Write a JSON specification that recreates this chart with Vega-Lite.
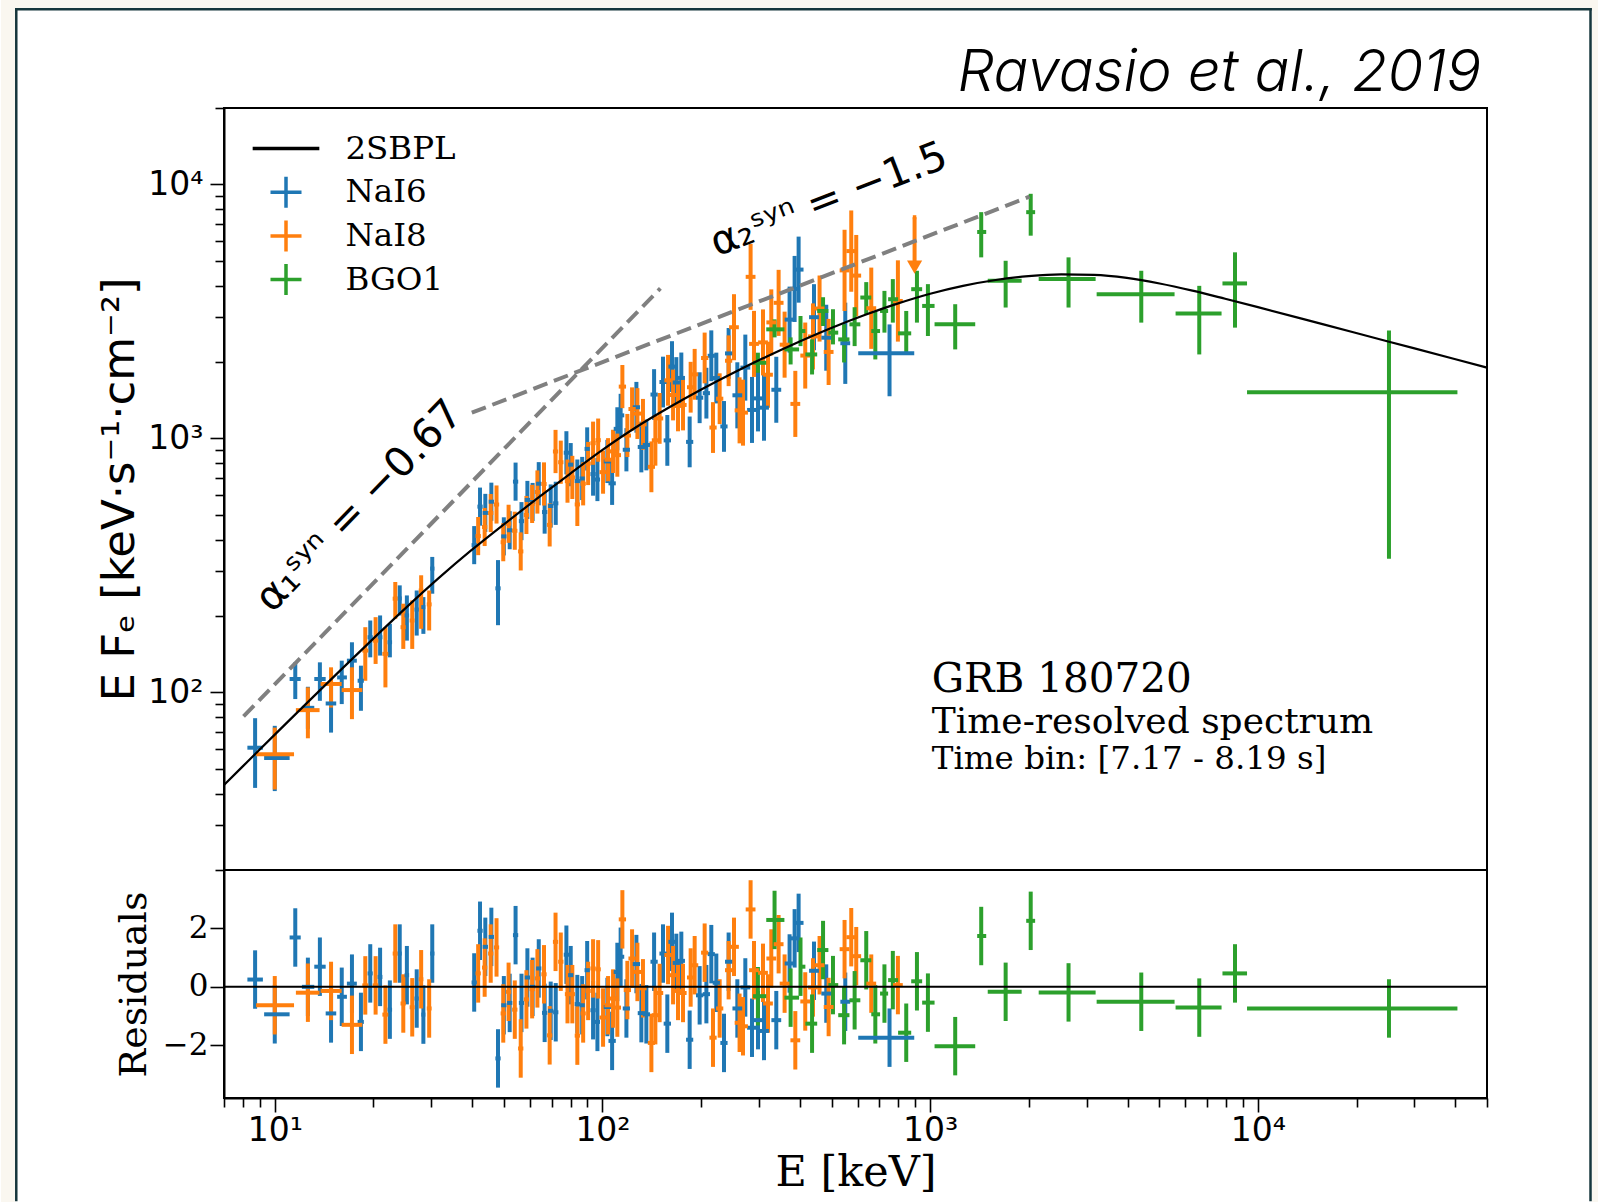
{
"$schema": "https://vega.github.io/schema/vega-lite/v6.json",
"background": "white",
"padding": 0,
"autosize": {"type": "pad", "resize": false},
"spacing": 0,
"bounds": "flush",
"config": {
  "view": {"stroke": null},
  "axis": {"grid": false, "domainColor": "black", "tickColor": "black", "labelColor": "black", "titleColor": "black", "domainWidth": 2, "tickWidth": 1.6, "labelOverlap": false, "labelFlush": false, "zindex": 2}
},
"datasets": {
  "pts": [
    {"d":"NaI6","e":8.71,"el":8.25,"eh":9.2,"f":60.6,"fl":42.1,"fh":79.2,"r":0.25,"rl":-0.75,"rh":1.25},
    {"d":"NaI6","e":10.0,"el":9.28,"eh":11.1,"f":55.2,"fl":40.9,"fh":73.9,"r":-0.94,"rl":-1.94,"rh":0.06},
    {"d":"NaI6","e":11.55,"el":11.1,"eh":12.0,"f":113,"fl":94.2,"fh":131.4,"r":1.69,"rl":0.69,"rh":2.69},
    {"d":"NaI6","e":12.62,"el":12.1,"eh":13.2,"f":87.0,"fl":71.9,"fh":105.3,"r":0.0,"rl":-1.0,"rh":1.0},
    {"d":"NaI6","e":13.73,"el":13.2,"eh":14.3,"f":113,"fl":92.7,"fh":131.4,"r":0.69,"rl":-0.31,"rh":1.69},
    {"d":"NaI6","e":14.85,"el":14.3,"eh":15.4,"f":90.5,"fl":69.5,"fh":108,"r":-0.91,"rl":-1.91,"rh":0.09},
    {"d":"NaI6","e":16.01,"el":15.5,"eh":16.6,"f":114.6,"fl":90.0,"fh":133.4,"r":-0.34,"rl":-1.34,"rh":0.66},
    {"d":"NaI6","e":17.2,"el":16.6,"eh":17.8,"f":133.4,"fl":111.2,"fh":157.6,"r":0.11,"rl":-0.89,"rh":1.11},
    {"d":"NaI6","e":18.32,"el":17.9,"eh":18.7,"f":111.2,"fl":84.7,"fh":127.5,"r":-1.2,"rl":-2.2,"rh":-0.2},
    {"d":"NaI6","e":19.56,"el":19.2,"eh":19.9,"f":165,"fl":137.5,"fh":192,"r":0.46,"rl":-0.54,"rh":1.46},
    {"d":"NaI6","e":20.96,"el":20.6,"eh":21.3,"f":165,"fl":139.7,"fh":201,"r":0.34,"rl":-0.66,"rh":1.34},
    {"d":"NaI6","e":22.45,"el":22.1,"eh":22.8,"f":157.6,"fl":137.5,"fh":186.4,"r":-0.78,"rl":-1.78,"rh":0.22},
    {"d":"NaI6","e":24.06,"el":23.7,"eh":24.4,"f":234.6,"fl":201,"fh":264,"r":1.14,"rl":0.14,"rh":2.14},
    {"d":"NaI6","e":25.3,"el":24.9,"eh":25.7,"f":201,"fl":160,"fh":241,"r":0.4,"rl":-0.6,"rh":1.4},
    {"d":"NaI6","e":27.11,"el":26.7,"eh":27.5,"f":212,"fl":167.5,"fh":252,"r":-0.4,"rl":-1.4,"rh":0.6},
    {"d":"NaI6","e":28.41,"el":28.0,"eh":28.8,"f":216.8,"fl":170.1,"fh":237.4,"r":-0.95,"rl":-1.95,"rh":0.05},
    {"d":"NaI6","e":30.24,"el":29.8,"eh":30.7,"f":307.4,"fl":244.8,"fh":341.7,"r":1.14,"rl":0.14,"rh":2.14},
    {"d":"NaI6","e":40.6,"el":39.86,"eh":41.36,"f":380.2,"fl":319.9,"fh":451.9,"r":0.15,"rl":-0.85,"rh":1.15},
    {"d":"NaI6","e":42.3,"el":41.53,"eh":43.09,"f":539,"fl":453.5,"fh":640.6,"r":1.92,"rl":0.92,"rh":2.92},
    {"d":"NaI6","e":43.9,"el":43.1,"eh":44.72,"f":509.3,"fl":428.5,"fh":605.3,"r":1.37,"rl":0.37,"rh":2.37},
    {"d":"NaI6","e":45.8,"el":44.96,"eh":46.65,"f":563.6,"fl":474.2,"fh":669.9,"r":1.71,"rl":0.71,"rh":2.71},
    {"d":"NaI6","e":48.0,"el":47.12,"eh":48.89,"f":257,"fl":184,"fh":332,"r":-2.45,"rl":-3.45,"rh":-1.45},
    {"d":"NaI6","e":50.0,"el":49.09,"eh":50.93,"f":411.6,"fl":346.3,"fh":489.3,"r":-0.63,"rl":-1.63,"rh":0.37},
    {"d":"NaI6","e":52.1,"el":51.15,"eh":53.07,"f":435.3,"fl":366.3,"fh":517.4,"r":-0.55,"rl":-1.55,"rh":0.45},
    {"d":"NaI6","e":54.3,"el":53.31,"eh":55.31,"f":676.1,"fl":568.9,"fh":803.5,"r":1.77,"rl":0.77,"rh":2.77},
    {"d":"NaI6","e":56.6,"el":55.57,"eh":57.65,"f":472.6,"fl":397.7,"fh":561.7,"r":-0.55,"rl":-1.55,"rh":0.45},
    {"d":"NaI6","e":59.0,"el":57.92,"eh":60.1,"f":572.8,"fl":482.0,"fh":680.8,"r":0.32,"rl":-0.68,"rh":1.32},
    {"d":"NaI6","e":61.2,"el":60.08,"eh":62.34,"f":562.3,"fl":473.2,"fh":668.3,"r":0.0,"rl":-1.0,"rh":1.0},
    {"d":"NaI6","e":63.9,"el":62.73,"eh":65.09,"f":663.5,"fl":545.6,"fh":806.9,"r":0.63,"rl":-0.37,"rh":1.63},
    {"d":"NaI6","e":66.6,"el":65.38,"eh":67.84,"f":513.2,"fl":421.9,"fh":624.3,"r":-0.89,"rl":-1.89,"rh":0.11},
    {"d":"NaI6","e":69.5,"el":68.23,"eh":70.79,"f":542.0,"fl":445.7,"fh":659.2,"r":-0.82,"rl":-1.82,"rh":0.18},
    {"d":"NaI6","e":72.0,"el":70.69,"eh":73.34,"f":555.5,"fl":456.8,"fh":675.6,"r":-0.87,"rl":-1.87,"rh":0.13},
    {"d":"NaI6","e":77.6,"el":76.18,"eh":79.04,"f":878.5,"fl":722.2,"fh":1068,"r":1.1,"rl":0.1,"rh":2.1},
    {"d":"NaI6","e":80.0,"el":78.54,"eh":81.49,"f":788.7,"fl":648.5,"fh":959.2,"r":0.4,"rl":-0.6,"rh":1.4},
    {"d":"NaI6","e":83.8,"el":82.27,"eh":85.36,"f":679.5,"fl":558.8,"fh":826.4,"r":-0.59,"rl":-1.59,"rh":0.41},
    {"d":"NaI6","e":86.7,"el":85.12,"eh":88.31,"f":695.7,"fl":572.1,"fh":846.1,"r":-0.63,"rl":-1.63,"rh":0.37},
    {"d":"NaI6","e":89.8,"el":88.16,"eh":91.47,"f":909.7,"fl":747.8,"fh":1106,"r":0.57,"rl":-0.43,"rh":1.57},
    {"d":"NaI6","e":93.6,"el":91.89,"eh":95.34,"f":724.0,"fl":595.3,"fh":880.5,"r":-0.8,"rl":-1.8,"rh":0.2},
    {"d":"NaI6","e":96.5,"el":94.74,"eh":98.29,"f":689.1,"fl":566.7,"fh":838.2,"r":-1.2,"rl":-2.2,"rh":-0.2},
    {"d":"NaI6","e":103.5,"el":100.9,"eh":106.2,"f":812.1,"fl":667.6,"fh":987.4,"r":-0.69,"rl":-1.69,"rh":0.31},
    {"d":"NaI6","e":107.0,"el":104.3,"eh":109.8,"f":665.8,"fl":547.5,"fh":809.8,"r":-1.85,"rl":-2.85,"rh":-0.85},
    {"d":"NaI6","e":111.0,"el":108.2,"eh":113.9,"f":1091,"fl":897.5,"fh":1327,"r":0.51,"rl":-0.49,"rh":1.51},
    {"d":"NaI6","e":113.6,"el":110.8,"eh":116.5,"f":1233,"fl":1014,"fh":1499,"r":1.03,"rl":0.03,"rh":2.03},
    {"d":"NaI6","e":118.3,"el":115.3,"eh":121.3,"f":902.7,"fl":742.1,"fh":1098,"r":-0.74,"rl":-1.74,"rh":0.26},
    {"d":"NaI6","e":126.9,"el":123.7,"eh":130.2,"f":1327,"fl":1054,"fh":1670,"r":0.78,"rl":-0.22,"rh":1.78},
    {"d":"NaI6","e":131.4,"el":128.1,"eh":134.8,"f":925.8,"fl":735.4,"fh":1165,"r":-0.9,"rl":-1.9,"rh":0.1},
    {"d":"NaI6","e":136.1,"el":132.7,"eh":139.6,"f":942.8,"fl":748.9,"fh":1187,"r":-0.94,"rl":-1.94,"rh":0.06},
    {"d":"NaI6","e":143.7,"el":140.1,"eh":147.4,"f":1489,"fl":1183,"fh":1874,"r":0.86,"rl":-0.14,"rh":1.86},
    {"d":"NaI6","e":153.0,"el":149.2,"eh":156.9,"f":1668,"fl":1325,"fh":2099,"r":1.14,"rl":0.14,"rh":2.14},
    {"d":"NaI6","e":157.7,"el":153.7,"eh":161.8,"f":982.7,"fl":780.6,"fh":1237,"r":-1.26,"rl":-2.26,"rh":-0.26},
    {"d":"NaI6","e":163.0,"el":158.9,"eh":167.2,"f":1918,"fl":1524,"fh":2415,"r":1.54,"rl":0.54,"rh":2.54},
    {"d":"NaI6","e":168.0,"el":163.8,"eh":172.3,"f":1661,"fl":1319,"fh":2090,"r":0.82,"rl":-0.18,"rh":1.82},
    {"d":"NaI6","e":174.0,"el":169.6,"eh":178.5,"f":1731,"fl":1375,"fh":2179,"r":0.89,"rl":-0.11,"rh":1.89},
    {"d":"NaI6","e":184.5,"el":179.9,"eh":189.2,"f":969.4,"fl":770.1,"fh":1220,"r":-1.81,"rl":-2.81,"rh":-0.81},
    {"d":"NaI6","e":197.9,"el":192.9,"eh":203.0,"f":1447,"fl":1149,"fh":1822,"r":-0.29,"rl":-1.29,"rh":0.71},
    {"d":"NaI6","e":207.5,"el":202.3,"eh":212.8,"f":1508,"fl":1198,"fh":1898,"r":-0.25,"rl":-1.25,"rh":0.75},
    {"d":"NaI6","e":214.8,"el":209.4,"eh":220.3,"f":2116,"fl":1681,"fh":2664,"r":1.12,"rl":0.12,"rh":2.12},
    {"d":"NaI6","e":222.5,"el":216.9,"eh":228.2,"f":1729,"fl":1374,"fh":2177,"r":0.14,"rl":-0.86,"rh":1.14},
    {"d":"NaI6","e":234.8,"el":228.9,"eh":240.8,"f":1115,"fl":886.0,"fh":1404,"r":-1.92,"rl":-2.92,"rh":-0.92},
    {"d":"NaI6","e":242.6,"el":236.5,"eh":248.8,"f":2162,"fl":1717,"fh":2722,"r":0.86,"rl":-0.14,"rh":1.86},
    {"d":"NaI6","e":257.9,"el":249.2,"eh":266.9,"f":1479,"fl":1096,"fh":1995,"r":-0.74,"rl":-1.74,"rh":0.26},
    {"d":"NaI6","e":272.8,"el":263.6,"eh":282.4,"f":1901,"fl":1409,"fh":2564,"r":-0.02,"rl":-1.02,"rh":0.98},
    {"d":"NaI6","e":285.9,"el":276.2,"eh":295.9,"f":1295,"fl":960.3,"fh":1747,"r":-1.4,"rl":-2.4,"rh":-0.4},
    {"d":"NaI6","e":298.2,"el":288.1,"eh":308.7,"f":1438,"fl":1066,"fh":1940,"r":-1.14,"rl":-2.14,"rh":-0.14},
    {"d":"NaI6","e":311.1,"el":300.6,"eh":322.0,"f":1322,"fl":979.9,"fh":1783,"r":-1.51,"rl":-2.51,"rh":-0.51},
    {"d":"NaI6","e":339.1,"el":327.6,"eh":351.0,"f":1555,"fl":1153,"fh":2097,"r":-1.14,"rl":-2.14,"rh":-0.14},
    {"d":"NaI6","e":372.3,"el":359.7,"eh":385.4,"f":2937,"fl":2177,"fh":3961,"r":0.8,"rl":-0.2,"rh":1.8},
    {"d":"NaI6","e":385.7,"el":372.6,"eh":399.2,"f":3879,"fl":2875,"fh":5232,"r":1.66,"rl":0.66,"rh":2.66},
    {"d":"NaI6","e":396.7,"el":383.3,"eh":410.6,"f":4622,"fl":3425,"fh":6233,"r":2.19,"rl":1.19,"rh":3.19},
    {"d":"NaI6","e":441.9,"el":426.9,"eh":457.4,"f":3002,"fl":2225,"fh":4050,"r":0.55,"rl":-0.45,"rh":1.55},
    {"d":"NaI6","e":481.7,"el":465.4,"eh":498.6,"f":2493,"fl":1848,"fh":3361,"r":-0.23,"rl":-1.23,"rh":0.77},
    {"d":"NaI6","e":550.6,"el":531.9,"eh":569.9,"f":2371,"fl":1640,"fh":3425,"r":-0.51,"rl":-1.51,"rh":0.49},
    {"d":"NaI6","e":751.4,"el":603.1,"eh":893.9,"f":2163,"fl":1466,"fh":2812,"r":-1.74,"rl":-2.74,"rh":-0.74},
    {"d":"NaI8","e":10.0,"el":8.77,"eh":11.45,"f":57.1,"fl":41.5,"fh":72.7,"r":-0.63,"rl":-1.63,"rh":0.37},
    {"d":"NaI8","e":12.62,"el":11.6,"eh":13.7,"f":85.2,"fl":66.0,"fh":104.7,"r":-0.2,"rl":-1.2,"rh":0.8},
    {"d":"NaI8","e":14.85,"el":13.8,"eh":16.0,"f":108,"fl":87.2,"fh":125.6,"r":-0.14,"rl":-1.14,"rh":0.86},
    {"d":"NaI8","e":17.2,"el":16.0,"eh":18.5,"f":102.2,"fl":78.5,"fh":125.6,"r":-1.3,"rl":-2.3,"rh":-0.3},
    {"d":"NaI8","e":18.89,"el":18.5,"eh":19.3,"f":146.2,"fl":111.2,"fh":180.7,"r":0.05,"rl":-0.95,"rh":1.05},
    {"d":"NaI8","e":20.31,"el":19.9,"eh":20.7,"f":160,"fl":129.5,"fh":197.9,"r":0.05,"rl":-0.95,"rh":1.05},
    {"d":"NaI8","e":21.76,"el":21.3,"eh":22.2,"f":141.9,"fl":104.7,"fh":180.7,"r":-0.95,"rl":-1.95,"rh":0.05},
    {"d":"NaI8","e":23.32,"el":22.9,"eh":23.7,"f":234,"fl":195,"fh":272.2,"r":1.14,"rl":0.14,"rh":2.14},
    {"d":"NaI8","e":24.67,"el":24.2,"eh":25.1,"f":180.7,"fl":148.4,"fh":223.6,"r":-0.57,"rl":-1.57,"rh":0.43},
    {"d":"NaI8","e":26.27,"el":25.8,"eh":26.7,"f":192,"fl":148.4,"fh":230.4,"r":-0.7,"rl":-1.7,"rh":0.3},
    {"d":"NaI8","e":27.97,"el":27.5,"eh":28.4,"f":252,"fl":178.1,"fh":289.3,"r":0.26,"rl":-0.74,"rh":1.26},
    {"d":"NaI8","e":29.59,"el":29.1,"eh":30.1,"f":222.2,"fl":175.4,"fh":252,"r":-0.74,"rl":-1.74,"rh":0.26},
    {"d":"NaI8","e":41.75,"el":40.99,"eh":42.53,"f":412.8,"fl":347.2,"fh":490.7,"r":0.46,"rl":-0.54,"rh":1.46},
    {"d":"NaI8","e":43.7,"el":42.9,"eh":44.51,"f":448.1,"fl":377.1,"fh":532.6,"r":0.66,"rl":-0.34,"rh":1.66},
    {"d":"NaI8","e":45.6,"el":44.77,"eh":46.45,"f":508.5,"fl":427.9,"fh":604.4,"r":1.14,"rl":0.14,"rh":2.14},
    {"d":"NaI8","e":47.5,"el":46.63,"eh":48.38,"f":549.5,"fl":462.4,"fh":653.1,"r":1.35,"rl":0.35,"rh":2.35},
    {"d":"NaI8","e":49.8,"el":48.89,"eh":50.73,"f":390.4,"fl":328.5,"fh":464.0,"r":-0.91,"rl":-1.91,"rh":0.09},
    {"d":"NaI8","e":51.7,"el":50.76,"eh":52.66,"f":461.5,"fl":388.2,"fh":548.4,"r":-0.17,"rl":-1.17,"rh":0.83},
    {"d":"NaI8","e":54.0,"el":53.01,"eh":55.0,"f":433.1,"fl":364.5,"fh":514.9,"r":-0.78,"rl":-1.78,"rh":0.22},
    {"d":"NaI8","e":56.3,"el":55.27,"eh":57.35,"f":359.2,"fl":302.2,"fh":426.9,"r":-2.11,"rl":-3.11,"rh":-1.11},
    {"d":"NaI8","e":58.6,"el":57.53,"eh":59.69,"f":499.7,"fl":420.5,"fh":593.9,"r":-0.43,"rl":-1.43,"rh":0.57},
    {"d":"NaI8","e":61.0,"el":59.89,"eh":62.13,"f":552.4,"fl":464.8,"fh":656.7,"r":-0.08,"rl":-1.08,"rh":0.92},
    {"d":"NaI8","e":63.3,"el":62.14,"eh":64.48,"f":615.4,"fl":506.0,"fh":748.5,"r":0.29,"rl":-0.71,"rh":1.29},
    {"d":"NaI8","e":66.3,"el":65.09,"eh":67.53,"f":662.0,"fl":544.3,"fh":805.1,"r":0.43,"rl":-0.57,"rh":1.43},
    {"d":"NaI8","e":69.0,"el":67.74,"eh":70.28,"f":456.8,"fl":375.6,"fh":555.5,"r":-1.66,"rl":-2.66,"rh":-0.66},
    {"d":"NaI8","e":71.9,"el":70.59,"eh":73.24,"f":888.6,"fl":730.4,"fh":1081,"r":1.54,"rl":0.54,"rh":2.54},
    {"d":"NaI8","e":74.6,"el":73.24,"eh":75.99,"f":806.1,"fl":662.9,"fh":980.4,"r":0.86,"rl":-0.14,"rh":1.86},
    {"d":"NaI8","e":78.2,"el":76.77,"eh":79.65,"f":679.2,"fl":558.5,"fh":826.0,"r":-0.25,"rl":-1.25,"rh":0.75},
    {"d":"NaI8","e":80.9,"el":79.42,"eh":82.4,"f":702.4,"fl":577.7,"fh":854.3,"r":-0.25,"rl":-1.25,"rh":0.75},
    {"d":"NaI8","e":83.8,"el":82.27,"eh":85.36,"f":550.0,"fl":452.3,"fh":669.0,"r":-1.67,"rl":-2.67,"rh":-0.67},
    {"d":"NaI8","e":87.3,"el":85.71,"eh":88.92,"f":663.1,"fl":545.1,"fh":806.4,"r":-0.91,"rl":-1.91,"rh":0.09},
    {"d":"NaI8","e":90.4,"el":88.75,"eh":92.08,"f":796.9,"fl":655.3,"fh":969.2,"r":-0.14,"rl":-1.14,"rh":0.86},
    {"d":"NaI8","e":93.6,"el":91.89,"eh":95.34,"f":957.9,"fl":787.7,"fh":1165,"r":0.63,"rl":-0.37,"rh":1.63},
    {"d":"NaI8","e":97.0,"el":95.23,"eh":98.8,"f":984.7,"fl":809.8,"fh":1198,"r":0.6,"rl":-0.4,"rh":1.6},
    {"d":"NaI8","e":100.4,"el":97.89,"eh":103.0,"f":736.9,"fl":606.0,"fh":896.4,"r":-1.05,"rl":-2.05,"rh":-0.05},
    {"d":"NaI8","e":104.0,"el":101.4,"eh":106.7,"f":824.8,"fl":678.2,"fh":1003,"r":-0.63,"rl":-1.63,"rh":0.37},
    {"d":"NaI8","e":107.7,"el":105.0,"eh":110.5,"f":889.6,"fl":731.3,"fh":1082,"r":-0.4,"rl":-1.4,"rh":0.6},
    {"d":"NaI8","e":111.0,"el":108.2,"eh":113.9,"f":859.8,"fl":707.0,"fh":1045,"r":-0.71,"rl":-1.71,"rh":0.29},
    {"d":"NaI8","e":115.0,"el":112.1,"eh":118.0,"f":1600,"fl":1316,"fh":1946,"r":2.31,"rl":1.31,"rh":3.31},
    {"d":"NaI8","e":119.1,"el":116.1,"eh":122.2,"f":1027,"fl":845.0,"fh":1249,"r":-0.11,"rl":-1.11,"rh":0.89},
    {"d":"NaI8","e":123.1,"el":120.0,"eh":126.3,"f":1306,"fl":1074,"fh":1589,"r":0.97,"rl":-0.03,"rh":1.97},
    {"d":"NaI8","e":127.8,"el":124.6,"eh":131.1,"f":1253,"fl":995.4,"fh":1578,"r":0.51,"rl":-0.49,"rh":1.51},
    {"d":"NaI8","e":132.9,"el":129.6,"eh":136.3,"f":1136,"fl":902.9,"fh":1431,"r":-0.05,"rl":-1.05,"rh":0.95},
    {"d":"NaI8","e":141.0,"el":137.5,"eh":144.6,"f":773.2,"fl":614.2,"fh":973.4,"r":-1.92,"rl":-2.92,"rh":-0.92},
    {"d":"NaI8","e":145.0,"el":141.4,"eh":148.7,"f":983.5,"fl":781.3,"fh":1238,"r":-0.97,"rl":-1.97,"rh":0.03},
    {"d":"NaI8","e":149.4,"el":145.7,"eh":153.2,"f":1199,"fl":952.8,"fh":1510,"r":-0.21,"rl":-1.21,"rh":0.79},
    {"d":"NaI8","e":158.5,"el":154.5,"eh":162.6,"f":1694,"fl":1346,"fh":2133,"r":1.09,"rl":0.09,"rh":2.09},
    {"d":"NaI8","e":164.2,"el":160.1,"eh":168.4,"f":1483,"fl":1178,"fh":1866,"r":0.4,"rl":-0.6,"rh":1.4},
    {"d":"NaI8","e":170.0,"el":165.7,"eh":174.4,"f":1343,"fl":1067,"fh":1690,"r":-0.14,"rl":-1.14,"rh":0.86},
    {"d":"NaI8","e":176.1,"el":171.7,"eh":180.6,"f":1355,"fl":1076,"fh":1706,"r":-0.21,"rl":-1.21,"rh":0.79},
    {"d":"NaI8","e":185.8,"el":181.1,"eh":190.6,"f":1591,"fl":1264,"fh":2003,"r":0.32,"rl":-0.68,"rh":1.32},
    {"d":"NaI8","e":191.1,"el":186.3,"eh":196.0,"f":1788,"fl":1421,"fh":2252,"r":0.74,"rl":-0.26,"rh":1.74},
    {"d":"NaI8","e":205.0,"el":199.9,"eh":210.3,"f":2074,"fl":1648,"fh":2611,"r":1.17,"rl":0.17,"rh":2.17},
    {"d":"NaI8","e":217.4,"el":212.0,"eh":223.0,"f":1104,"fl":877.0,"fh":1390,"r":-1.74,"rl":-2.74,"rh":-0.74},
    {"d":"NaI8","e":227.8,"el":222.1,"eh":233.7,"f":1434,"fl":1139,"fh":1805,"r":-0.74,"rl":-1.74,"rh":0.26},
    {"d":"NaI8","e":242.6,"el":236.5,"eh":248.8,"f":2023,"fl":1607,"fh":2546,"r":0.57,"rl":-0.43,"rh":1.57},
    {"d":"NaI8","e":251.9,"el":243.4,"eh":260.7,"f":2741,"fl":2032,"fh":3698,"r":1.37,"rl":0.37,"rh":2.37},
    {"d":"NaI8","e":262.0,"el":253.1,"eh":271.2,"f":1290,"fl":956.6,"fh":1741,"r":-1.23,"rl":-2.23,"rh":-0.23},
    {"d":"NaI8","e":268.4,"el":259.3,"eh":277.8,"f":1264,"fl":936.8,"fh":1704,"r":-1.35,"rl":-2.35,"rh":-0.35},
    {"d":"NaI8","e":283.1,"el":273.5,"eh":293.0,"f":4328,"fl":3209,"fh":5839,"r":2.65,"rl":1.65,"rh":3.65},
    {"d":"NaI8","e":289.9,"el":280.1,"eh":300.1,"f":2357,"fl":1747,"fh":3179,"r":0.57,"rl":-0.43,"rh":1.57},
    {"d":"NaI8","e":308.9,"el":298.4,"eh":319.7,"f":2389,"fl":1771,"fh":3222,"r":0.48,"rl":-0.52,"rh":1.48},
    {"d":"NaI8","e":319.9,"el":309.1,"eh":331.1,"f":1782,"fl":1321,"fh":2404,"r":-0.57,"rl":-1.57,"rh":0.43},
    {"d":"NaI8","e":327.4,"el":316.3,"eh":338.9,"f":2864,"fl":2123,"fh":3864,"r":0.97,"rl":-0.03,"rh":1.97},
    {"d":"NaI8","e":344.7,"el":333.0,"eh":356.8,"f":3420,"fl":2534,"fh":4612,"r":1.46,"rl":0.46,"rh":2.46},
    {"d":"NaI8","e":359.5,"el":347.3,"eh":372.1,"f":2340,"fl":1735,"fh":3157,"r":0.11,"rl":-0.89,"rh":1.11},
    {"d":"NaI8","e":387.6,"el":374.5,"eh":401.2,"f":1368,"fl":1014,"fh":1846,"r":-1.83,"rl":-2.83,"rh":-0.83},
    {"d":"NaI8","e":415.6,"el":401.5,"eh":430.2,"f":2120,"fl":1572,"fh":2860,"r":-0.5,"rl":-1.5,"rh":0.5},
    {"d":"NaI8","e":438.8,"el":423.9,"eh":454.2,"f":2522,"fl":1869,"fh":3402,"r":-0.02,"rl":-1.02,"rh":0.98},
    {"d":"NaI8","e":459.6,"el":444.0,"eh":475.7,"f":3248,"fl":2407,"fh":4381,"r":0.74,"rl":-0.26,"rh":1.74},
    {"d":"NaI8","e":489.8,"el":473.2,"eh":507.0,"f":2191,"fl":1624,"fh":2956,"r":-0.69,"rl":-1.69,"rh":0.31},
    {"d":"NaI8","e":547.8,"el":529.2,"eh":567.0,"f":4589,"fl":3175,"fh":6632,"r":1.29,"rl":0.29,"rh":2.29},
    {"d":"NaI8","e":574.2,"el":554.7,"eh":594.3,"f":5466,"fl":3781,"fh":7900,"r":1.7,"rl":0.7,"rh":2.7},
    {"d":"NaI8","e":594.7,"el":574.5,"eh":615.5,"f":4377,"fl":3028,"fh":6327,"r":1.05,"rl":0.05,"rh":2.05},
    {"d":"NaI8","e":660.9,"el":638.5,"eh":684.1,"f":3256,"fl":2253,"fh":4706,"r":0.11,"rl":-0.89,"rh":1.11},
    {"d":"NaI8","e":796.9,"el":769.9,"eh":824.8,"f":3478,"fl":2406,"fh":5027,"r":0.06,"rl":-0.94,"rh":1.06},
    {"d":"BGO1","e":298,"el":288,"eh":316,"f":1986,"fl":1814,"fh":2176,"r":-0.32,"rl":-1.32,"rh":0.68},
    {"d":"BGO1","e":335,"el":316,"eh":359,"f":2689,"fl":2500,"fh":2944,"r":2.29,"rl":1.29,"rh":3.29},
    {"d":"BGO1","e":375,"el":359,"eh":398,"f":2242,"fl":1956,"fh":2500,"r":-0.37,"rl":-1.37,"rh":0.63},
    {"d":"BGO1","e":402,"el":398,"eh":416,"f":2648,"fl":2310,"fh":3035,"r":0.69,"rl":-0.31,"rh":1.69},
    {"d":"BGO1","e":436,"el":416,"eh":452,"f":2142,"fl":1786,"fh":2456,"r":-1.26,"rl":-2.26,"rh":-0.26},
    {"d":"BGO1","e":471,"el":452,"eh":489,"f":3177,"fl":2772,"fh":3598,"r":1.26,"rl":0.26,"rh":2.26},
    {"d":"BGO1","e":505,"el":489,"eh":524,"f":2610,"fl":2346,"fh":3227,"r":0.06,"rl":-0.94,"rh":1.06},
    {"d":"BGO1","e":546,"el":524,"eh":567,"f":2455,"fl":1992,"fh":2814,"r":-0.97,"rl":-1.97,"rh":0.03},
    {"d":"BGO1","e":588,"el":567,"eh":612,"f":2814,"fl":2310,"fh":3286,"r":-0.46,"rl":-1.46,"rh":0.54},
    {"d":"BGO1","e":638,"el":612,"eh":661,"f":3588,"fl":3083,"fh":4126,"r":0.91,"rl":-0.09,"rh":1.91},
    {"d":"BGO1","e":680,"el":661,"eh":703,"f":2648,"fl":2047,"fh":3177,"r":-0.94,"rl":-1.94,"rh":0.06},
    {"d":"BGO1","e":725,"el":703,"eh":744,"f":3177,"fl":2610,"fh":3811,"r":-0.23,"rl":-1.23,"rh":0.77},
    {"d":"BGO1","e":769,"el":744,"eh":798,"f":3533,"fl":2858,"fh":4240,"r":0.23,"rl":-0.77,"rh":1.23},
    {"d":"BGO1","e":845,"el":798,"eh":875,"f":2593,"fl":2176,"fh":3177,"r":-1.57,"rl":-2.57,"rh":-0.57},
    {"d":"BGO1","e":911,"el":875,"eh":945,"f":3870,"fl":2858,"fh":4573,"r":0.19,"rl":-0.81,"rh":1.19},
    {"d":"BGO1","e":984,"el":945,"eh":1031,"f":3325,"fl":2531,"fh":4051,"r":-0.54,"rl":-1.54,"rh":0.46},
    {"d":"BGO1","e":1192,"el":1031,"eh":1372,"f":2814,"fl":2242,"fh":3377,"r":-2.03,"rl":-3.03,"rh":-1.03},
    {"d":"BGO1","e":1431,"el":1391,"eh":1482,"f":6501,"fl":5164,"fh":7780,"r":1.74,"rl":0.74,"rh":2.74},
    {"d":"BGO1","e":1699,"el":1498,"eh":1901,"f":4175,"fl":3277,"fh":5007,"r":-0.17,"rl":-1.17,"rh":0.83},
    {"d":"BGO1","e":2026,"el":1963,"eh":2090,"f":7780,"fl":6286,"fh":9188,"r":2.26,"rl":1.26,"rh":3.26},
    {"d":"BGO1","e":2643,"el":2143,"eh":3197,"f":4240,"fl":3277,"fh":5164,"r":-0.19,"rl":-1.19,"rh":0.81},
    {"d":"BGO1","e":4406,"el":3220,"eh":5567,"f":3698,"fl":2858,"fh":4573,"r":-0.51,"rl":-1.51,"rh":0.49},
    {"d":"BGO1","e":6622,"el":5607,"eh":7745,"f":3102,"fl":2142,"fh":3989,"r":-0.71,"rl":-1.71,"rh":0.29},
    {"d":"BGO1","e":8511,"el":7794,"eh":9263,"f":4077,"fl":2731,"fh":5405,"r":0.46,"rl":-0.54,"rh":1.46},
    {"d":"BGO1","e":25110,"el":9263,"eh":40620,"f":1522,"fl":336,"fh":2660,"r":-0.74,"rl":-1.74,"rh":0.26}
  ],
  "uplim": [{"d":"NaI8","e":896,"el":885,"eh":907,"f":7431,"fl":4727}],
  "model": [
    {"E":7,"F":43.25},{"E":7.943,"F":50.82},{"E":10,"F":68.23},{"E":12.59,"F":91.41},{"E":15.85,"F":122.2},
    {"E":19.95,"F":162.6},{"E":25.12,"F":215.3},{"E":31.62,"F":281.8},{"E":39.81,"F":363.1},{"E":50.12,"F":460.3},
    {"E":63.1,"F":579.4},{"E":79.43,"F":724.4},{"E":100,"F":901.6},{"E":125.9,"F":1102},{"E":158.5,"F":1318},
    {"E":199.5,"F":1556},{"E":251.2,"F":1816},{"E":316.2,"F":2099},{"E":398.1,"F":2404},{"E":501.2,"F":2729},
    {"E":631,"F":3062},{"E":794.3,"F":3396},{"E":1000,"F":3715},{"E":1259,"F":3990},{"E":1585,"F":4207},
    {"E":1995,"F":4355},{"E":2512,"F":4426},{"E":3162,"F":4406},{"E":3981,"F":4285},{"E":5012,"F":4074},
    {"E":6310,"F":3819},{"E":7943,"F":3548},{"E":10000,"F":3289},{"E":15849,"F":2812},{"E":25119,"F":2404},
    {"E":39811,"F":2056},{"E":50000,"F":1901}
  ],
  "syn": [
    {"line":"a1","E":8.03,"F":80.5},{"line":"a1","E":150.2,"F":3898},
    {"line":"a2","E":39.93,"F":1263},{"line":"a2","E":2009,"F":8949}
  ],
  "legend": [{"d":"2SBPL"},{"d":"NaI6"},{"d":"NaI8"},{"d":"BGO1"}]
},
"vconcat": [
  {
    "width": 1263, "height": 762,
    "view": {"stroke": null},
    "layer": [
      {"layer": [
        {"data": {"values": [{}]}, "mark": {"type": "rect", "fill": "#faf7f0", "strokeWidth": 0},
         "encoding": {
           "x": {"datum": 1.4607, "type": "quantitative", "scale": {"type": "log", "domain": [7, 50000], "nice": false}, "axis": null},
           "x2": {"datum": 1.6129},
           "y": {"datum": 53225, "type": "quantitative", "scale": {"type": "log", "domain": [20, 20000], "nice": false}, "axis": null},
           "y2": {"datum": 0.98614}}},
        {"data": {"values": [{}]}, "mark": {"type": "rect", "fill": "#faf7f0", "strokeWidth": 0},
         "encoding": {
           "x": {"datum": 1.4607, "type": "quantitative", "scale": {"type": "log", "domain": [7, 50000], "nice": false}, "axis": null},
           "x2": {"datum": 109836},
           "y": {"datum": 53225, "type": "quantitative", "scale": {"type": "log", "domain": [20, 20000], "nice": false}, "axis": null},
           "y2": {"datum": 49496}}},
        {"data": {"values": [{}]}, "mark": {"type": "rect", "fill": "#faf7f0", "strokeWidth": 0},
         "encoding": {
           "x": {"datum": 104385, "type": "quantitative", "scale": {"type": "log", "domain": [7, 50000], "nice": false}, "axis": null},
           "x2": {"datum": 109836},
           "y": {"datum": 53225, "type": "quantitative", "scale": {"type": "log", "domain": [20, 20000], "nice": false}, "axis": null},
           "y2": {"datum": 0.98614}}},
        {"data": {"values": [{}]}, "mark": {"type": "rule", "color": "#16363c", "strokeWidth": 2.5, "strokeCap": "square"},
         "encoding": {
           "x": {"datum": 1.6265, "type": "quantitative", "scale": {"type": "log", "domain": [7, 50000], "nice": false}, "axis": null},
           "y": {"datum": 48932, "type": "quantitative", "scale": {"type": "log", "domain": [20, 20000], "nice": false}, "axis": null},
           "y2": {"datum": 1.0042}}},
        {"data": {"values": [{}]}, "mark": {"type": "rule", "color": "#16363c", "strokeWidth": 2.5, "strokeCap": "square"},
         "encoding": {
           "x": {"datum": 103470, "type": "quantitative", "scale": {"type": "log", "domain": [7, 50000], "nice": false}, "axis": null},
           "y": {"datum": 48932, "type": "quantitative", "scale": {"type": "log", "domain": [20, 20000], "nice": false}, "axis": null},
           "y2": {"datum": 1.0042}}},
        {"data": {"values": [{}]}, "mark": {"type": "rule", "color": "#16363c", "strokeWidth": 2.5, "strokeCap": "square"},
         "encoding": {
           "x": {"datum": 1.6265, "type": "quantitative", "scale": {"type": "log", "domain": [7, 50000], "nice": false}, "axis": null},
           "x2": {"datum": 103470},
           "y": {"datum": 48932, "type": "quantitative", "scale": {"type": "log", "domain": [20, 20000], "nice": false}, "axis": null}}},
        {"data": {"name": "pts"}, "mark": {"type": "rule", "strokeWidth": 4},
         "encoding": {
           "x": {"field": "e", "type": "quantitative", "scale": {"type": "log", "domain": [7, 50000], "nice": false}, "axis": null},
           "y": {"field": "fl", "type": "quantitative", "scale": {"type": "log", "domain": [20, 20000], "nice": false}, "axis": null},
           "y2": {"field": "fh"},
           "color": {"field": "d", "type": "nominal", "scale": {"domain": ["2SBPL","NaI6","NaI8","BGO1"], "range": ["#000000","#1f77b4","#ff7f0e","#2ca02c"]}}}},
        {"data": {"name": "pts"}, "mark": {"type": "rule", "strokeWidth": 4},
         "encoding": {
           "x": {"field": "el", "type": "quantitative", "scale": {"type": "log", "domain": [7, 50000], "nice": false}, "axis": null},
           "x2": {"field": "eh"},
           "y": {"field": "f", "type": "quantitative", "scale": {"type": "log", "domain": [20, 20000], "nice": false}, "axis": null},
           "color": {"field": "d", "type": "nominal", "scale": {"domain": ["2SBPL","NaI6","NaI8","BGO1"], "range": ["#000000","#1f77b4","#ff7f0e","#2ca02c"]}}}},
        {"data": {"name": "uplim"}, "mark": {"type": "rule", "strokeWidth": 4, "color": "#ff7f0e"},
         "encoding": {
           "x": {"field": "el", "type": "quantitative", "scale": {"type": "log", "domain": [7, 50000], "nice": false}, "axis": null},
           "x2": {"field": "eh"},
           "y": {"field": "f", "type": "quantitative", "scale": {"type": "log", "domain": [20, 20000], "nice": false}, "axis": null}}},
        {"data": {"name": "uplim"}, "mark": {"type": "rule", "strokeWidth": 4, "color": "#ff7f0e"},
         "encoding": {
           "x": {"field": "e", "type": "quantitative", "scale": {"type": "log", "domain": [7, 50000], "nice": false}, "axis": null},
           "y": {"field": "fl", "type": "quantitative", "scale": {"type": "log", "domain": [20, 20000], "nice": false}, "axis": null},
           "y2": {"field": "f"}}},
        {"data": {"name": "uplim"}, "mark": {"type": "point", "shape": "triangle-down", "filled": true, "size": 230, "color": "#ff7f0e", "opacity": 1},
         "encoding": {
           "x": {"field": "e", "type": "quantitative", "scale": {"type": "log", "domain": [7, 50000], "nice": false}, "axis": null},
           "y": {"field": "fl", "type": "quantitative", "scale": {"type": "log", "domain": [20, 20000], "nice": false}, "axis": null}}},
        {"data": {"name": "syn"}, "mark": {"type": "line", "color": "#808080", "strokeWidth": 4, "strokeDash": [15, 7]},
         "encoding": {
           "x": {"field": "E", "type": "quantitative", "scale": {"type": "log", "domain": [7, 50000], "nice": false}, "axis": null},
           "y": {"field": "F", "type": "quantitative", "scale": {"type": "log", "domain": [20, 20000], "nice": false}, "axis": null},
           "detail": {"field": "line", "type": "nominal"}}},
        {"data": {"values": [{}]}, "mark": {"type": "text", "text": "\u03b1\u2081\u02e2\u02b8\u207f = \u22120.67", "font": "DejaVu Sans", "fontSize": 41, "angle": -45.8, "align": "center", "baseline": "middle", "color": "black"},
         "encoding": {
           "x": {"datum": 18.16, "type": "quantitative", "scale": {"type": "log", "domain": [7, 50000], "nice": false}, "axis": null},
           "y": {"datum": 539.7, "type": "quantitative", "scale": {"type": "log", "domain": [20, 20000], "nice": false}, "axis": null}}},
        {"data": {"values": [{}]}, "mark": {"type": "text", "text": "\u03b1\u2082\u02e2\u02b8\u207f = \u22121.5", "font": "DejaVu Sans", "fontSize": 41, "angle": -21.2, "align": "center", "baseline": "middle", "color": "black"},
         "encoding": {
           "x": {"datum": 491.1, "type": "quantitative", "scale": {"type": "log", "domain": [7, 50000], "nice": false}, "axis": null},
           "y": {"datum": 8662, "type": "quantitative", "scale": {"type": "log", "domain": [20, 20000], "nice": false}, "axis": null}}},
        {"data": {"values": [{}]}, "mark": {"type": "text", "text": "GRB 180720", "font": "DejaVu Serif", "fontSize": 40.5, "align": "left", "baseline": "alphabetic", "color": "black"},
         "encoding": {
           "x": {"datum": 1010.6, "type": "quantitative", "scale": {"type": "log", "domain": [7, 50000], "nice": false}, "axis": null},
           "y": {"datum": 100.4, "type": "quantitative", "scale": {"type": "log", "domain": [20, 20000], "nice": false}, "axis": null}}},
        {"data": {"values": [{}]}, "mark": {"type": "text", "text": "Time-resolved spectrum", "font": "DejaVu Serif", "fontSize": 36, "align": "left", "baseline": "alphabetic", "color": "black"},
         "encoding": {
           "x": {"datum": 1010.6, "type": "quantitative", "scale": {"type": "log", "domain": [7, 50000], "nice": false}, "axis": null},
           "y": {"datum": 69.25, "type": "quantitative", "scale": {"type": "log", "domain": [20, 20000], "nice": false}, "axis": null}}},
        {"data": {"values": [{}]}, "mark": {"type": "text", "text": "Time bin: [7.17 - 8.19 s]", "font": "DejaVu Serif", "fontSize": 32.5, "align": "left", "baseline": "alphabetic", "color": "black"},
         "encoding": {
           "x": {"datum": 1010.6, "type": "quantitative", "scale": {"type": "log", "domain": [7, 50000], "nice": false}, "axis": null},
           "y": {"datum": 49.95, "type": "quantitative", "scale": {"type": "log", "domain": [20, 20000], "nice": false}, "axis": null}}},
        {"data": {"values": [{}]}, "mark": {"type": "text", "text": "Ravasio et al., 2019", "font": "Inter", "fontStyle": "italic", "fontWeight": 300, "fontSize": 58, "align": "right", "baseline": "alphabetic", "color": "black"},
         "encoding": {
           "x": {"datum": 47940, "type": "quantitative", "scale": {"type": "log", "domain": [7, 50000], "nice": false}, "axis": null},
           "y": {"datum": 23398, "type": "quantitative", "scale": {"type": "log", "domain": [20, 20000], "nice": false}, "axis": null}}},
        {"data": {"name": "legend"}, "mark": {"type": "point", "filled": false, "opacity": 1},
         "encoding": {
           "x": {"field": "e", "type": "quantitative", "scale": {"type": "log", "domain": [7, 50000], "nice": false}, "axis": null},
           "y": {"field": "f", "type": "quantitative", "scale": {"type": "log", "domain": [20, 20000], "nice": false}, "axis": null},
           "color": {"field": "d", "type": "nominal", "scale": {"domain": ["2SBPL","NaI6","NaI8","BGO1"], "range": ["#000000","#1f77b4","#ff7f0e","#2ca02c"]},
                     "legend": {"orient": "none", "legendX": 44.5, "legendY": 23, "title": null, "symbolSize": 961, "symbolStrokeWidth": 3.5, "symbolFillColor": "transparent", "symbolOpacity": 1, "labelFont": "DejaVu Serif", "labelFontSize": 32.5, "labelColor": "black", "labelOffset": 41.9, "rowPadding": -1.3, "padding": 0, "labelLimit": 0}},
           "shape": {"field": "d", "type": "nominal", "scale": {"domain": ["2SBPL","NaI6","NaI8","BGO1"], "range": ["M-2.15,0H2.15M0,-1L0,-1M0,1L0,1","M-1,0H1M0,-1V1","M-1,0H1M0,-1V1","M-1,0H1M0,-1V1"]},
                     "legend": {"orient": "none", "legendX": 44.5, "legendY": 23, "title": null, "symbolSize": 961, "symbolStrokeWidth": 3.5, "symbolFillColor": "transparent", "symbolOpacity": 1, "labelFont": "DejaVu Serif", "labelFontSize": 32.5, "labelColor": "black", "labelOffset": 41.9, "rowPadding": -1.3, "padding": 0, "labelLimit": 0}}}}
      ]},
      {"data": {"values": [{}]}, "mark": {"type": "rect", "fill": "transparent", "stroke": "black", "strokeWidth": 2},
       "encoding": {
         "x": {"datum": 7, "type": "quantitative", "scale": {"type": "log", "domain": [7, 50000], "nice": false}, "axis": null},
         "x2": {"datum": 50000},
         "y": {"datum": 20, "type": "quantitative", "scale": {"type": "log", "domain": [20, 20000], "nice": false},
               "axis": {"orient": "left", "values": [20,30,40,50,60,70,80,90,200,300,400,500,600,700,800,900,2000,3000,4000,5000,6000,7000,8000,9000,20000],
                        "labels": false, "tickSize": 9, "domain": false, "title": null}},
         "y2": {"datum": 20000}}},
      {"data": {"name": "model"}, "mark": {"type": "line", "color": "black", "strokeWidth": 2.2, "interpolate": "monotone"},
       "encoding": {
         "x": {"field": "E", "type": "quantitative", "scale": {"type": "log", "domain": [7, 50000], "nice": false}, "axis": null},
         "y": {"field": "F", "type": "quantitative", "scale": {"type": "log", "domain": [20, 20000], "nice": false},
               "axis": {"orient": "left", "values": [100, 1000, 10000],
                        "labelExpr": "'10' + ['\u2070','\u00b9','\u00b2','\u00b3','\u2074','\u2075'][round(log(datum.value)/LN10)]",
                        "tickSize": 14, "labelFont": "DejaVu Sans", "labelFontSize": 33, "labelPadding": 7,
                        "title": "E F\u2091  [keV\u00b7s\u207b\u00b9\u00b7cm\u207b\u00b2]", "titleFont": "DejaVu Sans", "titleFontSize": 45, "titleFontWeight": "normal",
                        "titleAngle": 270, "titleX": -91, "titleY": 381, "titleAlign": "center", "titleBaseline": "alphabetic"}}}}
    ],
    "resolve": {"axis": {"y": "independent"}}
  },
  {
    "width": 1263, "height": 228,
    "view": {"stroke": "black", "strokeWidth": 2},
    "layer": [
      {"layer": [
        {"data": {"name": "pts"}, "mark": {"type": "rule", "strokeWidth": 4},
         "encoding": {
           "x": {"field": "e", "type": "quantitative", "scale": {"type": "log", "domain": [7, 50000], "nice": false},
                 "axis": {"orient": "bottom", "values": [10, 100, 1000, 10000],
                          "labelExpr": "'10' + ['\u2070','\u00b9','\u00b2','\u00b3','\u2074','\u2075'][round(log(datum.value)/LN10)]",
                          "tickSize": 14, "labelFont": "DejaVu Sans", "labelFontSize": 33, "labelPadding": 2,
                          "title": "E [keV]", "titleFont": "DejaVu Serif", "titleFontSize": 43, "titleFontWeight": "normal",
                          "titleY": 87, "titleBaseline": "alphabetic"}},
           "y": {"field": "rl", "type": "quantitative", "scale": {"domain": [-3.805, 4.0], "nice": false, "zero": false},
                 "axis": {"orient": "left", "values": [-2, 0, 2],
                          "labelExpr": "datum.value < 0 ? '\u2212' + abs(datum.value) : '' + datum.value",
                          "tickSize": 14, "labelFont": "DejaVu Serif", "labelFontSize": 31, "labelPadding": 2,
                          "title": "Residuals", "titleFont": "DejaVu Serif", "titleFontSize": 38, "titleFontWeight": "normal",
                          "titleAngle": 270, "titleX": -79, "titleY": 114, "titleAlign": "center", "titleBaseline": "alphabetic"}},
           "y2": {"field": "rh"},
           "color": {"field": "d", "type": "nominal", "scale": {"domain": ["2SBPL","NaI6","NaI8","BGO1"], "range": ["#000000","#1f77b4","#ff7f0e","#2ca02c"]}}}},
        {"data": {"name": "pts"}, "mark": {"type": "rule", "strokeWidth": 4},
         "encoding": {
           "x": {"field": "el", "type": "quantitative", "scale": {"type": "log", "domain": [7, 50000], "nice": false}},
           "x2": {"field": "eh"},
           "y": {"field": "r", "type": "quantitative", "scale": {"domain": [-3.805, 4.0], "nice": false, "zero": false}},
           "color": {"field": "d", "type": "nominal", "scale": {"domain": ["2SBPL","NaI6","NaI8","BGO1"], "range": ["#000000","#1f77b4","#ff7f0e","#2ca02c"]}}}}
      ]},
      {"data": {"values": [{}]}, "mark": {"type": "rule", "color": "black", "strokeWidth": 2},
       "encoding": {
         "x": {"datum": 7, "type": "quantitative", "scale": {"type": "log", "domain": [7, 50000], "nice": false},
               "axis": {"orient": "bottom", "values": [7,8,9,20,30,40,50,60,70,80,90,200,300,400,500,600,700,800,900,2000,3000,4000,5000,6000,7000,8000,9000,20000,30000,40000,50000],
                        "labels": false, "tickSize": 9, "domain": false, "title": null}},
         "x2": {"datum": 50000},
         "y": {"datum": 0, "type": "quantitative", "scale": {"domain": [-3.805, 4.0], "nice": false, "zero": false}}}}
    ],
    "resolve": {"axis": {"x": "independent"}}
  }
]
}
